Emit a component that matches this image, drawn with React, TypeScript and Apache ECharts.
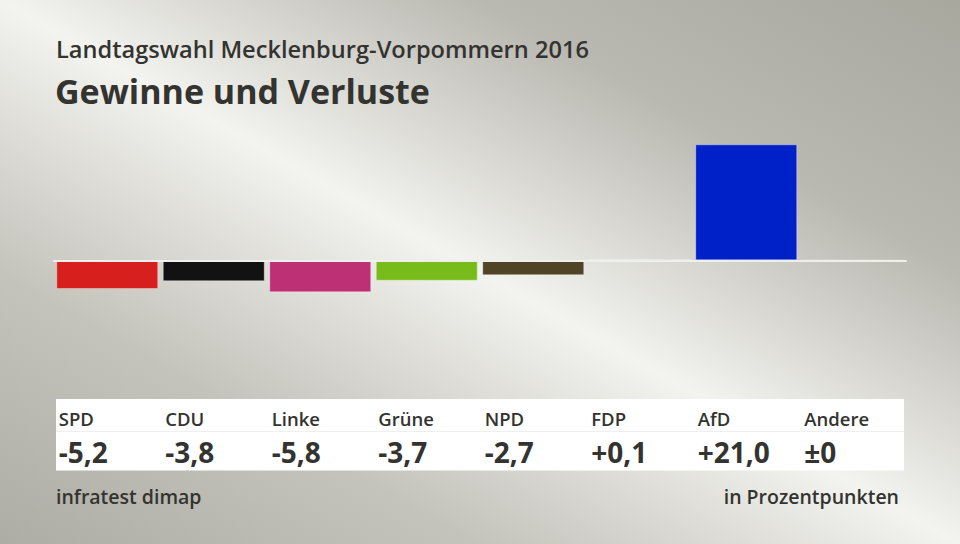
import React, { useEffect, useRef } from "react";
import * as echarts from "echarts";

const parties = ["SPD", "CDU", "Linke", "Grüne", "NPD", "FDP", "AfD", "Andere"];
const changes = [-5.2, -3.8, -5.8, -3.7, -2.7, 0.1, 21.0, 0];
const colors = ["#d7201e", "#121212", "#bd3075", "#78bc1b", "#4f4526", "#f0d34a", "#0021c8", "#999999"];

const subtitle = "Landtagswahl Mecklenburg-Vorpommern 2016";
const title = "Gewinne und Verluste";
const source = "infratest dimap";
const unit = "in Prozentpunkten";

const FONT = '"Open Sans", "Noto Sans", sans-serif';
const TEXT = "#333330";

function fmt(v: number): string {
  if (v === 0) return "±0";
  const s = Math.abs(v).toFixed(1).replace(".", ",");
  return (v > 0 ? "+" : "-") + s;
}

export default function App() {
  const ref = useRef<HTMLDivElement>(null);
  useEffect(() => {
    if (!ref.current) return;
    const chart = echarts.init(ref.current, null, { renderer: "svg", width: 960, height: 544 });
    const BAR_W = 102;
    chart.setOption({
      animation: false,
      backgroundColor: "transparent",
      grid: { left: 54, right: 54, top: 122.2, bottom: 228.5, containLabel: false },
      xAxis: {
        type: "category",
        data: parties,
        z: 10,
        axisLine: { show: true, onZero: true, lineStyle: { color: "#efefeb", width: 2 } },
        axisTick: { show: false },
        axisLabel: { show: false },
        splitLine: { show: false },
      },
      yAxis: {
        type: "value",
        min: -10,
        max: 25,
        show: false,
        splitLine: { show: false },
      },
      series: [
        {
          type: "bar",
          barWidth: BAR_W,
          data: changes.map((v, i) => ({
            value: v,
            itemStyle: { color: colors[i], borderColor: "rgba(255,255,255,0.35)", borderWidth: 1 },
          })),
        },
      ],
    });

    const els: any[] = [];
    els.push({
      type: "text",
      x: 56,
      y: 49.2,
      style: { text: subtitle, font: `600 23.6px ${FONT}`, fill: TEXT, verticalAlign: "middle", align: "left" },
    });
    els.push({
      type: "text",
      x: 55,
      y: 91.3,
      style: { text: title, font: `700 34px ${FONT}`, fill: TEXT, verticalAlign: "middle", align: "left" },
    });
    els.push({
      type: "rect",
      shape: { x: 56, y: 399, width: 848, height: 71.5 },
      style: { fill: "#ffffff" },
      z: 1,
    });
    els.push({
      type: "line",
      shape: { x1: 56, y1: 431.5, x2: 904, y2: 431.5 },
      style: { stroke: "#efefef", lineWidth: 1 },
      z: 2,
    });
    parties.forEach((p, i) => {
      const cx = chart.convertToPixel({ xAxisIndex: 0 }, p) as number;
      const x = cx - BAR_W / 2 + 2.5;
      els.push({
        type: "text",
        x,
        y: 418.3,
        z: 3,
        style: { text: p, font: `600 18.5px ${FONT}`, fill: TEXT, verticalAlign: "middle", align: "left" },
      });
      els.push({
        type: "text",
        x,
        y: 451.5,
        z: 3,
        style: { text: fmt(changes[i]), font: `700 28px ${FONT}`, fill: TEXT, verticalAlign: "middle", align: "left" },
      });
    });
    els.push({
      type: "text",
      x: 56,
      y: 496.5,
      style: { text: source, font: `600 19.5px ${FONT}`, fill: TEXT, verticalAlign: "middle", align: "left" },
    });
    els.push({
      type: "text",
      x: 899,
      y: 496.5,
      style: { text: unit, font: `600 19.5px ${FONT}`, fill: TEXT, verticalAlign: "middle", align: "right" },
    });
    chart.setOption({ graphic: els });
    return () => chart.dispose();
  }, []);
  return (
    <div
      style={{
        position: "absolute",
        left: 0,
        top: 0,
        width: 960,
        height: 544,
        background:
          "linear-gradient(to bottom left, #a9a89f 0%, #b9b8b1 25%, #f3f3ef 50%, #c4c3bc 75%, #aeada5 100%)",
      }}
    >
      <div ref={ref} style={{ width: 960, height: 544 }} />
    </div>
  );
}
